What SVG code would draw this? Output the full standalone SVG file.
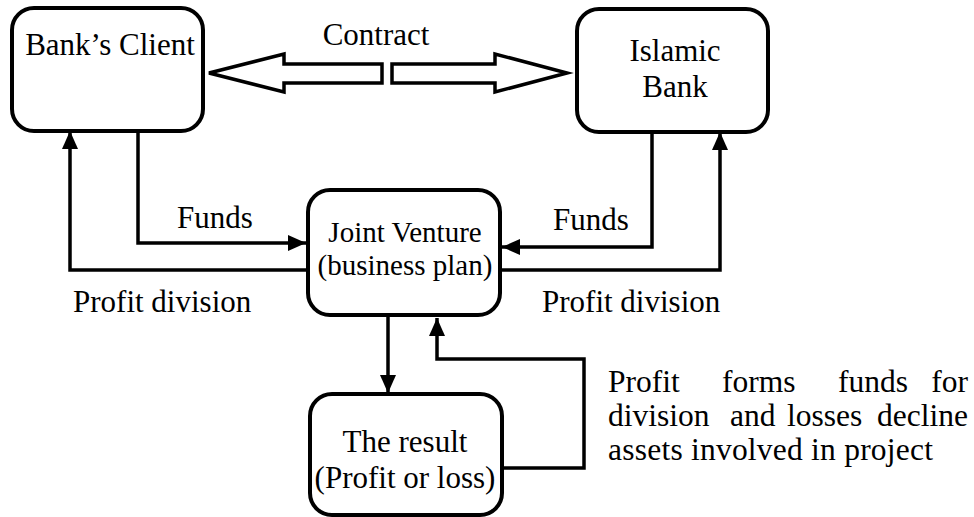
<svg xmlns="http://www.w3.org/2000/svg" width="974" height="517" viewBox="0 0 974 517">
<defs>
<style>
.box{fill:#fff;stroke:#000;stroke-width:4}
.t{font-family:"Liberation Serif","Times New Roman",serif;font-size:31px;fill:#000}
.c{text-anchor:middle}
.p{font-size:31.5px}
.ln{fill:none;stroke:#000;stroke-width:3.5}
.big{fill:#fff;stroke:#000;stroke-width:3.5;stroke-linejoin:miter}
</style>
<marker id="ah" markerUnits="userSpaceOnUse" viewBox="0 0 18 16" refX="18" refY="8" markerWidth="18" markerHeight="16" orient="auto">
<path d="M0,0 L18,8 L0,16 Z" fill="#000"/>
</marker>
</defs>
<rect width="974" height="517" fill="#fff"/>
<g id="connectors">
<polygon class="big" points="209,73 284,54 284,64 382,64 382,83 284,83 284,92"/>
<polygon class="big" points="392,64 495,64 495,54 567,73 495,92 495,83 392,83"/>
<path class="ln" d="M138,131 V243 H306" marker-end="url(#ah)"/>
<path class="ln" d="M308,270 H70 V131" marker-end="url(#ah)"/>
<path class="ln" d="M652,132 V247 H502" marker-end="url(#ah)"/>
<path class="ln" d="M500,270 H720 V132" marker-end="url(#ah)"/>
<path class="ln" d="M388,315 V393" marker-end="url(#ah)"/>
<path class="ln" d="M502,468 H584 V359 H437 V318" marker-end="url(#ah)"/>
</g>
<g id="client">
<rect class="box" x="12" y="8" width="191" height="123" rx="22"/>
<text class="t c" x="110" y="55">Bank’s Client</text>
</g>
<g id="bank">
<rect class="box" x="577" y="9" width="191" height="123" rx="22"/>
<text class="t c" x="675" y="61">Islamic</text>
<text class="t c" x="675" y="97">Bank</text>
</g>
<g id="jv">
<rect class="box" x="308" y="190" width="192" height="125" rx="22"/>
<text class="t c" x="405" y="242" style="font-size:29px">Joint Venture</text>
<text class="t c" x="405" y="275" style="font-size:29px">(business plan)</text>
</g>
<g id="result">
<rect class="box" x="310" y="394" width="192" height="121" rx="22"/>
<text class="t c" x="405" y="452">The result</text>
<text class="t c" x="405" y="488">(Profit or loss)</text>
</g>
<g id="labels">
<text class="t c" x="376" y="45">Contract</text>
<text class="t" x="177" y="228">Funds</text>
<text class="t" x="553" y="230">Funds</text>
<text class="t" x="73" y="312">Profit division</text>
<text class="t" x="542" y="312">Profit division</text>
<text class="t p" x="608" y="392">Profit</text>
<text class="t p" x="722" y="392">forms</text>
<text class="t p" x="838" y="392">funds</text>
<text class="t p" x="968" y="392" text-anchor="end">for</text>
<text class="t p" x="608" y="426">division</text>
<text class="t p" x="730" y="426">and</text>
<text class="t p" x="787" y="426">losses</text>
<text class="t p" x="968" y="426" text-anchor="end">decline</text>
<text class="t p" x="608" y="460" textLength="325">assets involved in project</text>
</g>
</svg>
